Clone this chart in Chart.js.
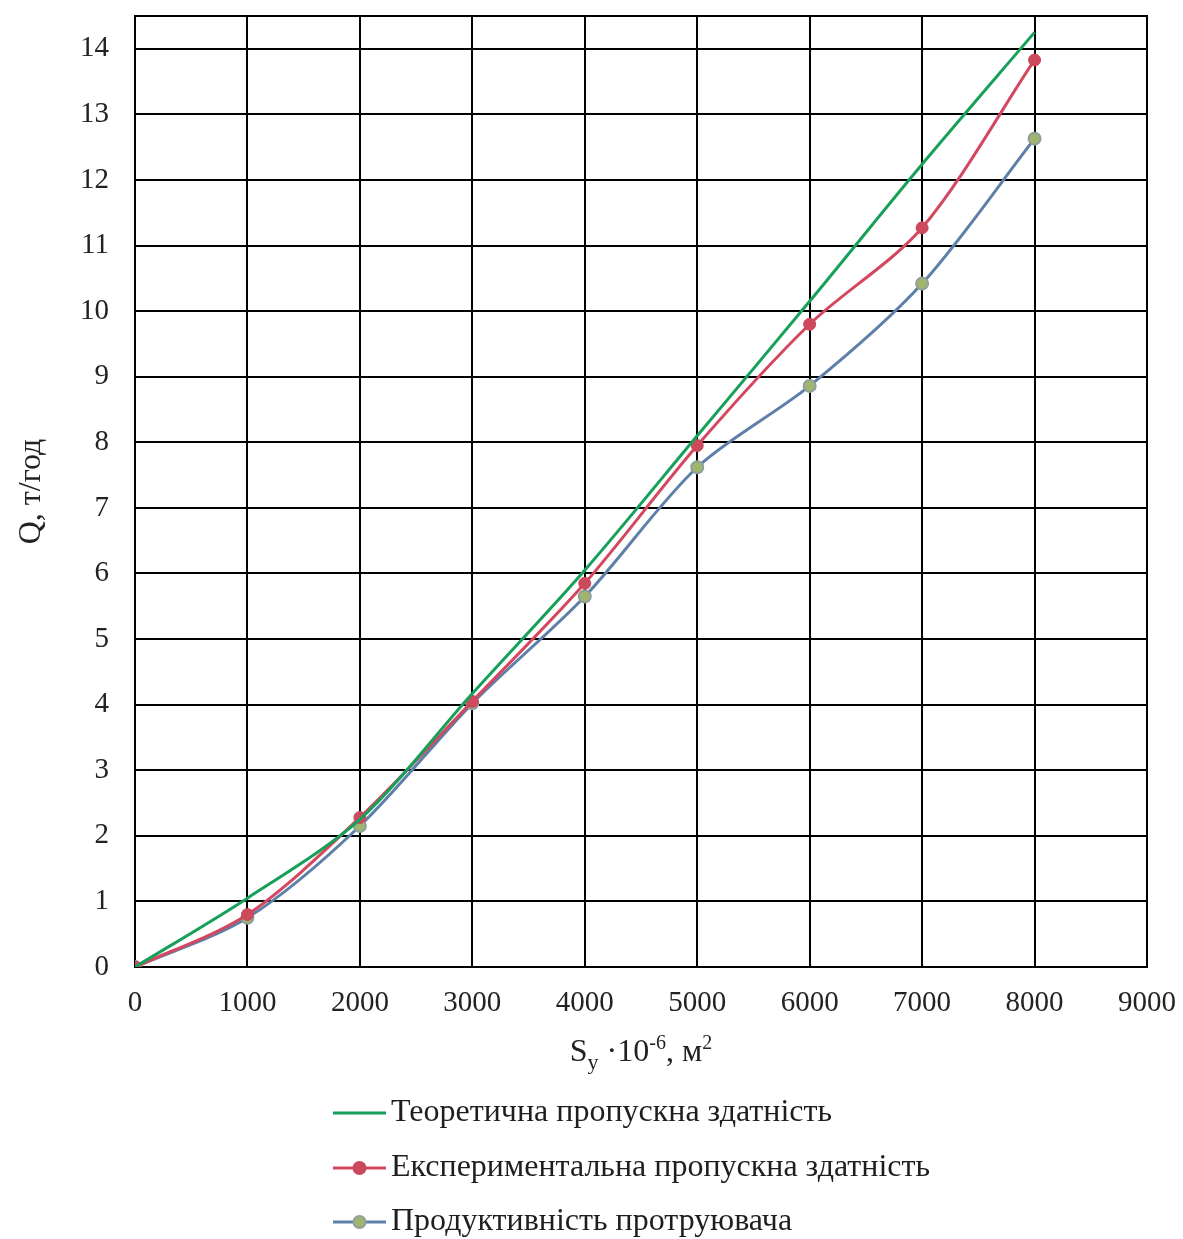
<!DOCTYPE html>
<html>
<head>
<meta charset="utf-8">
<script src="https://cdn.jsdelivr.net/npm/chart.js@4/dist/chart.umd.min.js"></script>
<style>
  html, body { margin: 0; padding: 0; background: #fff; }
  #wrap { width: 1183px; height: 1239px; }
</style>
</head>
<body>
<div id="wrap"><canvas id="lineChart" width="1183" height="1239"></canvas></div>
<script>
// дані
const areaX = [0, 1000, 2000, 3000, 4000, 5000, 6000, 7000, 8000];
const theoretical = [0, 1.05, 2.25, 4.17, 6.05, 8.1, 10.15, 12.24, 14.25];
const experimental = [0, 0.8, 2.28, 4.05, 5.85, 7.95, 9.8, 11.27, 13.83];
const productivity = [0, 0.75, 2.15, 4.02, 5.65, 7.62, 8.86, 10.42, 12.63];
const yTicks = [0, 1, 2, 3, 4, 5, 6, 7, 8, 9, 10, 11, 12, 13, 14];
const seriesNames = [
  'Теоретична пропускна здатність',
  'Експериментальна пропускна здатність',
  'Продуктивність протруювача'
];

const serif = "'Liberation Serif', 'Times New Roman', serif";

function pts(ys) {
  return areaX.map((x, i) => ({ x: x, y: ys[i] }));
}

// підпис осі X з нижнім і верхнім індексами та легенда
const extrasPlugin = {
  id: 'extras',
  afterDraw(chart) {
    const ctx = chart.ctx;
    const area = chart.chartArea;
    ctx.save();
    ctx.fillStyle = '#222';
    ctx.textBaseline = 'alphabetic';
    // "Sy ·10-6, м2"
    const parts = [
      { t: 'S', size: 32, dy: 0 },
      { t: 'y', size: 22, dy: 8 },
      { t: ' ·10', size: 32, dy: 0 },
      { t: '-6', size: 20, dy: -12 },
      { t: ', м', size: 32, dy: 0 },
      { t: '2', size: 20, dy: -12 }
    ];
    let total = 0;
    parts.forEach(p => { ctx.font = p.size + 'px ' + serif; p.w = ctx.measureText(p.t).width; total += p.w; });
    let x = (area.left + area.right) / 2 - total / 2;
    const base = 1061;
    parts.forEach(p => {
      ctx.font = p.size + 'px ' + serif;
      ctx.fillText(p.t, x, base + p.dy);
      x += p.w;
    });

    // легенда
    const rows = [1113, 1168, 1222];
    chart.data.datasets.forEach((ds, i) => {
      const y = rows[i];
      ctx.strokeStyle = ds.borderColor;
      ctx.lineWidth = 3;
      ctx.beginPath();
      ctx.moveTo(333, y);
      ctx.lineTo(386, y);
      ctx.stroke();
      if (ds.pointRadius > 0) {
        ctx.beginPath();
        ctx.arc(359.5, y, 6, 0, Math.PI * 2);
        ctx.fillStyle = ds.pointBackgroundColor;
        ctx.fill();
        ctx.lineWidth = 2;
        ctx.strokeStyle = ds.pointBorderColor;
        ctx.stroke();
      }
      ctx.font = '32px ' + serif;
      ctx.fillStyle = '#1e1e1e';
      ctx.textBaseline = 'middle';
      ctx.fillText(ds.label, 391, y);
    });
    ctx.restore();
  }
};

let lineCtx = document.getElementById('lineChart');
let lineConfig = {
  type: 'line',
  data: {
    datasets: [{
      label: seriesNames[0],
      data: pts(theoretical),
      borderColor: '#16a05a',
      borderWidth: 3,
      pointRadius: 0,
      tension: 0.3
    }, {
      label: seriesNames[1],
      data: pts(experimental),
      borderColor: '#d4485f',
      borderWidth: 3,
      pointRadius: 6,
      pointBackgroundColor: '#cc4a5c',
      pointBorderColor: '#c84a5a',
      pointBorderWidth: 1,
      tension: 0.3
    }, {
      label: seriesNames[2],
      data: pts(productivity),
      borderColor: '#5d7fa8',
      borderWidth: 3,
      pointRadius: 6,
      pointBackgroundColor: '#9fb56e',
      pointBorderColor: '#8e9f9c',
      pointBorderWidth: 2,
      tension: 0.3
    }]
  },
  options: {
    responsive: false,
    animation: false,
    layout: { padding: { left: 0, right: 36, top: 16, bottom: 172 } },
    plugins: {
      legend: { display: false },
      tooltip: { enabled: false }
    },
    scales: {
      x: {
        type: 'linear',
        min: 0,
        max: 9000,
        ticks: {
          stepSize: 1000,
          padding: 19,
          autoSkip: false,
          maxRotation: 0,
          color: '#222',
          font: { family: serif, size: 29 },
          callback: v => String(v)
        },
        grid: { color: '#000', lineWidth: 2, drawTicks: false },
        border: { color: '#000', width: 2 },
        afterFit(scale) {
          scale.height = 100;
          scale.paddingLeft = 0;
          scale.paddingRight = 0;
        }
      },
      y: {
        min: 0,
        max: 14.5,
        afterBuildTicks(scale) {
          scale.ticks = yTicks.map(v => ({ value: v }));
        },
        ticks: {
          autoSkip: false,
          padding: 26,
          color: '#222',
          font: { family: serif, size: 29 },
          callback: v => String(v)
        },
        grid: { color: '#000', lineWidth: 2, drawTicks: false },
        border: { color: '#000', width: 2 },
        title: {
          display: true,
          text: 'Q, т/год',
          color: '#222',
          font: { family: serif, size: 32 },
          padding: { top: 12, bottom: 0 }
        },
        afterFit(scale) {
          scale.width = 135;
          scale.paddingTop = 0;
          scale.paddingBottom = 0;
        }
      }
    }
  },
  plugins: [extrasPlugin, {
    id: 'frame',
    afterDatasetsDraw(chart) {
      const a = chart.chartArea;
      const ctx = chart.ctx;
      ctx.save();
      ctx.strokeStyle = '#000';
      ctx.lineWidth = 2;
      ctx.beginPath();
      ctx.moveTo(a.left, a.top);
      ctx.lineTo(a.right, a.top);
      ctx.lineTo(a.right, a.bottom);
      ctx.stroke();
      ctx.restore();
    }
  }]
};
let lineChart = new Chart(lineCtx, lineConfig);
</script>
</body>
</html>
